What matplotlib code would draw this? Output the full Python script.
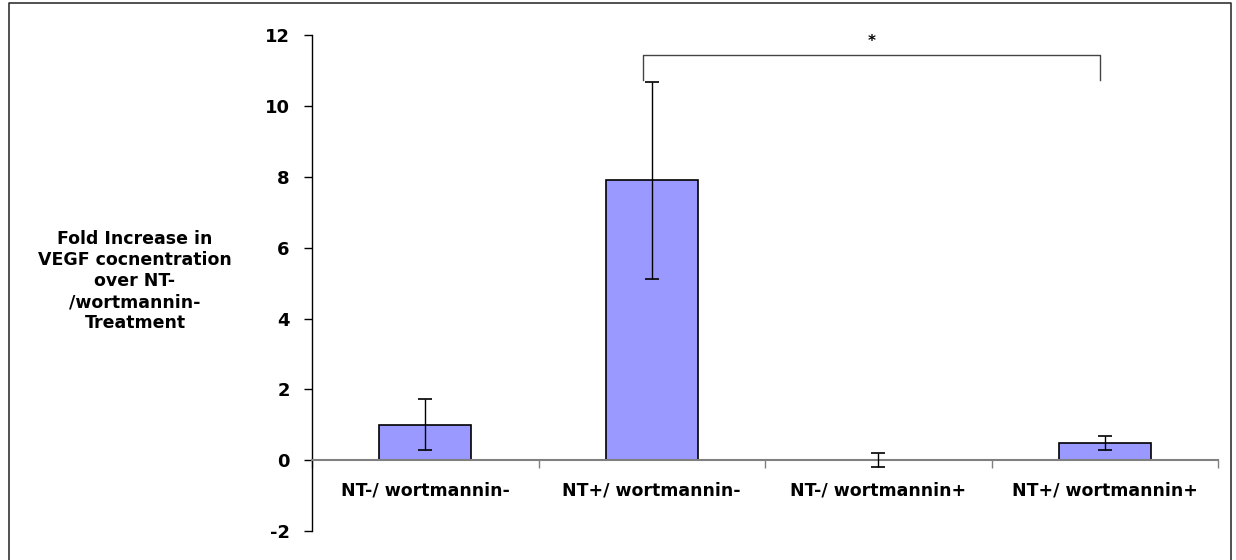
import matplotlib
matplotlib.use("Agg")
import matplotlib.pyplot as plt
from matplotlib.lines import Line2D

# Data
categories = ["NT-/ wortmannin-", "NT+/ wortmannin-", "NT-/ wortmannin+", "NT+/ wortmannin+"]
values = [1.0, 7.9, 0.0, 0.48]
errors = [0.72, 2.77, 0.19, 0.2]
yticks = [-2, 0, 2, 4, 6, 8, 10, 12]
ylabel = "Fold Increase in\nVEGF cocnentration\nover NT-\n/wortmannin-\nTreatment"
sig_pair = (1, 3)
sig_y = (10.75, 11.45)

BAR = "#9999FF"
AXGREY = "#808080"

plt.rcParams["font.family"] = ["DejaVu Sans"]

fig = plt.figure(figsize=(12.36, 5.6), dpi=100)
ax = fig.add_axes([312 / 1236, 1 - 531 / 560, (1218 - 312) / 1236, (531 - 35.3) / 560])

x = list(range(len(categories)))
ax.bar(x, values, width=0.405, color=BAR, edgecolor="black", linewidth=1.2, zorder=2)
ax.errorbar(x, values, yerr=errors, fmt="none", ecolor="black", elinewidth=1,
            capsize=5, capthick=1.2, zorder=3)

ax.set_xlim(-0.5, len(categories) - 0.5)
ax.set_ylim(-2, 12)
ax.set_yticks(yticks)
ax.set_yticklabels([str(t) for t in yticks], fontsize=13, fontweight="semibold")
ax.tick_params(axis="y", direction="out", length=6, width=1, pad=10)

# category axis at y=0
ax.spines["bottom"].set_position(("data", 0))
ax.spines["bottom"].set_color(AXGREY)
ax.spines["bottom"].set_linewidth(1.5)
ax.spines["top"].set_visible(False)
ax.spines["right"].set_visible(False)
ax.spines["left"].set_linewidth(1)
ax.set_xticks([i - 0.5 for i in range(len(categories) + 1)])
ax.set_xticklabels([])
ax.tick_params(axis="x", which="major", direction="out", length=6, color=AXGREY, width=1)
ax.set_xticks(x, minor=True)
ax.set_xticklabels(categories, minor=True, fontsize=12.5, fontweight="bold")
ax.tick_params(axis="x", which="minor", length=0, pad=15)

# significance bracket
x0, x1 = sig_pair[0] - 0.04, sig_pair[1] - 0.02
ax.plot([x0, x0, x1, x1], [sig_y[0], sig_y[1], sig_y[1], sig_y[0]],
        color="#444444", linewidth=1, clip_on=False)
ax.text((x0 + x1) / 2, sig_y[1] + 0.15, "*", ha="center", va="bottom", fontsize=11,
        fontweight="bold")

fig.text(135 / 1236, 1 - 281 / 560, ylabel, ha="center", va="center", fontsize=12.5,
         fontweight="bold", linespacing=1.22)

# outer frame (left, top, right)
fig.add_artist(Line2D([8.5 / 1236, 8.5 / 1236, 1231 / 1236, 1231 / 1236],
                      [0, 1 - 3 / 560, 1 - 3 / 560, 0], transform=fig.transFigure,
                      color="#333333", linewidth=1.2))

fig.savefig("out.png", dpi=100)
